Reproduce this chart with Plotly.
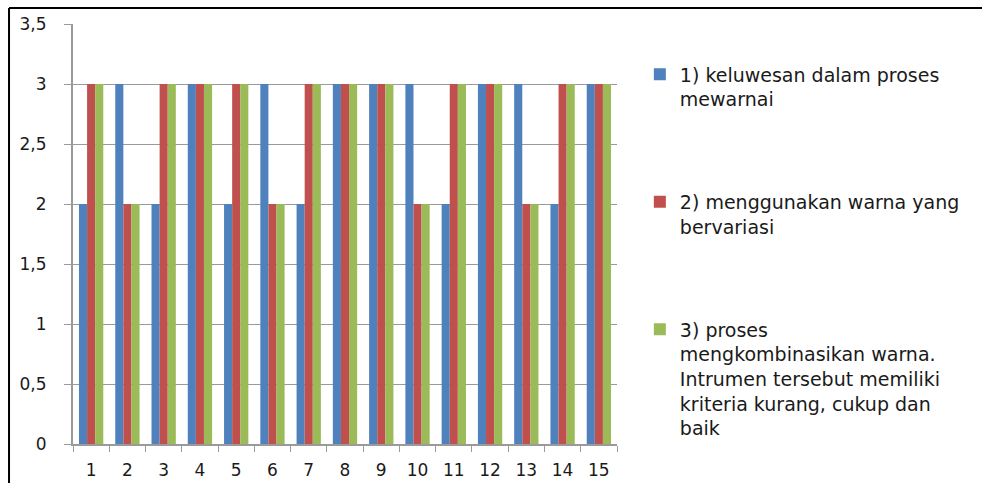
import plotly.graph_objects as go

categories = [str(i) for i in range(1, 16)]
series_names = [
    "1) keluwesan dalam proses<br>mewarnai",
    "2) menggunakan warna yang<br>bervariasi",
    "3) proses<br>mengkombinasikan warna.<br>Intrumen tersebut memiliki<br>kriteria kurang, cukup dan<br>baik",
]
s1 = [2, 3, 2, 3, 2, 3, 2, 3, 3, 3, 2, 3, 3, 2, 3]
s2 = [3, 2, 3, 3, 3, 2, 3, 3, 3, 2, 3, 3, 2, 3, 3]
s3 = [3, 2, 3, 3, 3, 2, 3, 3, 3, 2, 3, 3, 2, 3, 3]
colors = ["#4F81BD", "#C0504D", "#9BBB59"]
y_tickvals = [0, 0.5, 1, 1.5, 2, 2.5, 3, 3.5]
y_ticktext = ["0", "0,5", "1", "1,5", "2", "2,5", "3", "3,5"]

FONT = "DejaVu Sans"
fig = go.Figure()
for i, (name, vals) in enumerate(zip(series_names, [s1, s2, s3])):
    fig.add_trace(go.Bar(x=categories, y=vals, name=name, marker_color=colors[i],
                         marker_line_width=0, legendgroup=f"g{i}"))

fig.update_layout(
    width=982, height=483,
    margin=dict(l=73, r=365, t=24, b=39),
    paper_bgcolor="white", plot_bgcolor="white",
    barmode="group", bargap=0.33, bargroupgap=0,
    font=dict(family=FONT, size=17, color="#1a1a1a"),
    legend=dict(x=1.042, y=0.925, xanchor="left", yanchor="top",
                font=dict(family=FONT, size=19, color="#1a1a1a"),
                traceorder="grouped", tracegroupgap=75, valign="top",
                itemwidth=30, bgcolor="rgba(0,0,0,0)"),
    showlegend=True,
)
fig.update_yaxes(range=[0, 3.5], tickvals=y_tickvals, ticktext=y_ticktext,
                 showgrid=True, gridcolor="#9a9a9a", gridwidth=1,
                 showline=True, linecolor="#9a9a9a", linewidth=2,
                 ticks="outside", ticklen=7, tickcolor="#9a9a9a",
                 zeroline=False, ticklabelstandoff=14, automargin=False)
fig.update_xaxes(showline=True, linecolor="#9a9a9a", linewidth=2,
                 ticks="outside", tickson="boundaries", ticklen=6, tickcolor="#9a9a9a",
                 showgrid=False, ticklabelstandoff=10, automargin=False)

# image border (top and left)
fig.add_shape(type="line", xref="paper", yref="paper", x0=-0.1176, x1=1.7, y0=1.038, y1=1.038,
              line=dict(color="black", width=2))
fig.add_shape(type="line", xref="paper", yref="paper", x0=-0.1176, x1=-0.1176, y0=1.038, y1=-0.2,
              line=dict(color="black", width=2))

fig.write_html("out.html")
